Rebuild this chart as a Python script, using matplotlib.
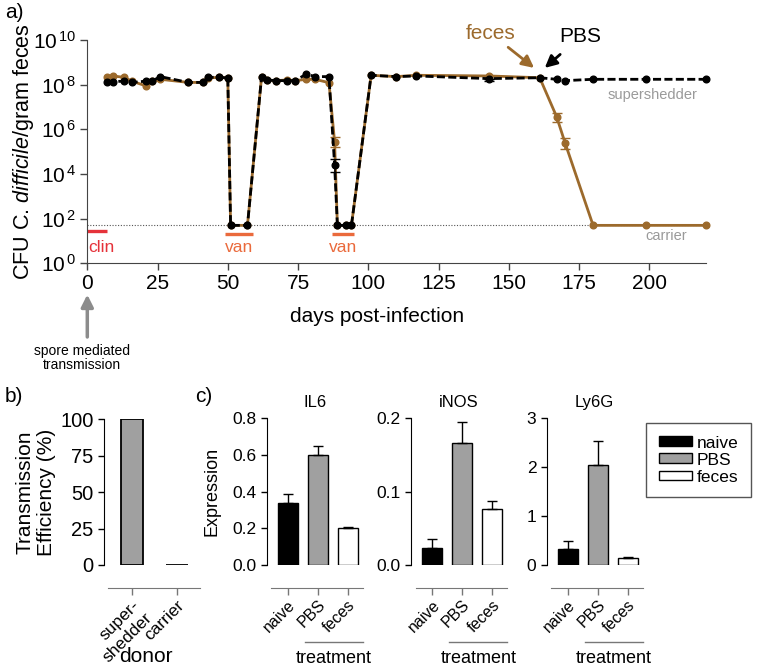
import numpy as np
import matplotlib.pyplot as plt
from matplotlib.patches import Patch

plt.rcParams['font.family'] = ['Liberation Sans', 'DejaVu Sans']
plt.rcParams['mathtext.fontset'] = 'custom'
plt.rcParams['mathtext.rm'] = 'Liberation Sans'
plt.rcParams['mathtext.it'] = 'Liberation Sans:italic'

# ---------------- data ----------------
LOD = 50
days = [7, 9, 13, 16, 21, 23, 26, 36, 41, 43, 47, 50, 51, 57, 62, 64, 67, 71, 74, 78,
        81, 86, 88, 89, 92, 94, 101, 110, 117, 143, 161, 167, 170, 180, 199, 220]
# log10 CFU, None = below detection
log_pbs = [8.13, 8.13, 8.16, 8.10, 8.16, 8.16, 8.36, 8.10, 8.10, 8.33, 8.33, 8.30, None, None,
           8.33, 8.21, 8.18, 8.18, 8.18, 8.48, 8.36, 8.36, 4.42, None, None, None, 8.42,
           8.36, 8.39, 8.27, 8.31, 8.24, 8.18, 8.24, 8.24, 8.24]
log_feces = [8.33, 8.39, 8.33, 8.15, 7.94, 8.15, 8.24, 8.10, 8.10, 8.30, 8.33, 8.30, None, None,
             8.33, 8.21, 8.18, 8.21, 8.18, 8.24, 8.24, 8.09, 5.45, None, None, None, 8.42,
             8.36, 8.42, 8.39, 8.31, 6.57, 5.40, None, None, None]
# error bars (log10 low / high)
err_days_pbs = [88, 143]
err_lo_pbs = [4.10, 8.18]
err_hi_pbs = [4.66, 8.27]
err_days_feces = [88, 167, 170]
err_lo_feces = [5.22, 6.34, 5.10]
err_hi_feces = [5.67, 6.72, 5.60]

clin_days = [0, 7]
van_days = [[49, 59], [87, 95]]

groups = ['naive', 'PBS', 'feces']
genes = ['IL6', 'iNOS', 'Ly6G']
il6_mean = [0.337, 0.60, 0.204]
il6_err = [0.049, 0.05, 0.005]
inos_mean = [0.023, 0.166, 0.077]
inos_err = [0.013, 0.029, 0.010]
ly6g_mean = [0.32, 2.05, 0.15]
ly6g_err = [0.17, 0.48, 0.02]

donors = ['super-\nshedder', 'carrier']
transmission = [100, 0]

brown = '#9c6a2c'
W, H = 761, 668
fig = plt.figure(figsize=(W / 100, H / 100), dpi=100)


def box(l, t, r, b):
    return [l / W, 1 - b / H, (r - l) / W, (b - t) / H]


def to_cfu(vals):
    return np.array([10 ** v if v is not None else LOD for v in vals])


# ---------------- panel a ----------------
ax = fig.add_axes(box(87.3, 40, 705.5, 263.3))
ax.set_yscale('log')
ax.set_xlim(0, 220)
ax.set_ylim(1, 1e10)
ax.axhline(LOD, color='#555555', ls=(0, (1, 1.5)), lw=0.8, zorder=1)

pbs = to_cfu(log_pbs)
feces = to_cfu(log_feces)
ax.plot(days, feces, color=brown, lw=2, marker='o', ms=4.8, zorder=3, clip_on=False)
ax.plot(days, pbs, color='black', lw=2, ls=(0, (2.9, 1.2)), marker='o', ms=4.8,
        zorder=4, clip_on=False)

v = 10 ** np.array([log_pbs[22], log_pbs[29]])
ax.errorbar(err_days_pbs, v, yerr=[v - 10 ** np.array(err_lo_pbs), 10 ** np.array(err_hi_pbs) - v],
            fmt='none', ecolor='black', elinewidth=1.2, capsize=3.5, zorder=5)
v = 10 ** np.array([log_feces[22], log_feces[31], log_feces[32]])
ax.errorbar(err_days_feces, v, yerr=[v - 10 ** np.array(err_lo_feces), 10 ** np.array(err_hi_feces) - v],
            fmt='none', ecolor=brown, elinewidth=1.2, capsize=3.5, zorder=2)

# antibiotic treatments
ax.plot(clin_days, [28, 28], color='#e5323a', lw=2.4, solid_capstyle='butt', clip_on=False)
ax.text(0.5, 4.9, 'clin', color='#e5323a', fontsize=12.5, ha='left', va='center')
for d in van_days:
    ax.plot(d, [20, 20], color='#ea6a3c', lw=2.4, solid_capstyle='butt')
    ax.text(np.mean(d), 4.9, 'van', color='#ea6a3c', fontsize=12.5, ha='center', va='center')

ax.text(201, 10 ** 7.54, 'supershedder', color='#9a9a9a', fontsize=10.5, ha='center', va='center')
ax.text(206, 10 ** 1.22, 'carrier', color='#9a9a9a', fontsize=10.5, ha='center', va='center')

ax.annotate('feces', xy=(159, 10 ** 8.75), xytext=(143.5, 10 ** 10.3), color=brown, fontsize=15,
            ha='center', va='center', annotation_clip=False,
            arrowprops=dict(arrowstyle='-|>', color=brown, lw=2, mutation_scale=18, shrinkA=2, shrinkB=0))
ax.annotate('PBS', xy=(162.8, 10 ** 8.75), xytext=(175.5, 10 ** 10.15), color='black', fontsize=15,
            ha='center', va='center', annotation_clip=False,
            arrowprops=dict(arrowstyle='-|>', color='black', lw=2, mutation_scale=18, shrinkA=6, shrinkB=0))

# spore arrow below axis
ax.annotate('', xy=(0, -0.14), xytext=(0, -0.33), xycoords=('data', 'axes fraction'),
            textcoords=('data', 'axes fraction'), annotation_clip=False,
            arrowprops=dict(arrowstyle='-|>', color='#8c8c8c', lw=2.5, mutation_scale=18, shrinkA=0, shrinkB=0))
ax.text(-1.9, -0.425, 'spore mediated\ntransmission', transform=ax.get_xaxis_transform(),
        fontsize=10, ha='center', va='center', linespacing=0.95)

ax.set_xticks([0, 25, 50, 75, 100, 125, 150, 175, 200])
ax.set_yticks([10 ** k for k in range(0, 11, 2)])
ax.set_yticklabels([r'$\mathregular{10^{\,%d}}$' % k for k in range(0, 11, 2)])
ax.yaxis.set_minor_locator(plt.NullLocator())
ax.tick_params(labelsize=15, length=5, width=1, color='#444444', pad=3)
for s in ['top', 'right']:
    ax.spines[s].set_visible(False)
for s in ['left', 'bottom']:
    ax.spines[s].set_color('#444444')
ax.set_xlabel('days post-infection', fontsize=15)
ax.xaxis.set_label_coords(0.469, -0.196)
ax.set_ylabel(r'CFU C. $\mathit{difficile}$/gram feces', fontsize=15.5)
ax.yaxis.set_label_coords(-0.083, 0.5)

fig.text(5 / W, 1 - 12 / H, 'a)', fontsize=15, va='center')
fig.text(5 / W, 1 - 397 / H, 'b)', fontsize=15, va='center')
fig.text(195 / W, 1 - 397 / H, 'c)', fontsize=15, va='center')


def offset_bottom(a, lo, hi):
    # GraphPad style: detached x axis below the bars
    for s in ['top', 'right']:
        a.spines[s].set_visible(False)
    a.spines['bottom'].set_position(('outward', 16.3))
    a.spines['bottom'].set_bounds(lo, hi)
    a.spines['bottom'].set_color('#777777')


# ---------------- panel b ----------------
axb = fig.add_axes(box(104, 419.3, 200, 565))
offset_bottom(axb, -0.53, 1.51)
axb.bar([0, 1], transmission, width=0.5, color='#a0a0a0', edgecolor='black', lw=1.3)
axb.set_xlim(-0.62, 1.51)
axb.set_ylim(0, 100)
axb.set_yticks([0, 25, 50, 75, 100])
axb.set_xticks([0, 1])
axb.set_xticklabels(donors, rotation=45, ha='right', va='top', rotation_mode='anchor', fontsize=12.5)
axb.tick_params(axis='y', labelsize=14.5, length=4, width=1)
axb.tick_params(axis='x', length=5, width=1, color='#777777', pad=2)
axb.set_xlabel('donor', fontsize=15)
axb.xaxis.set_label_coords(0.44, -0.56)
axb.set_ylabel('Transmission\nEfficiency (%)', fontsize=15)
axb.yaxis.set_label_coords(-0.5, 0.5)

# ---------------- panel c ----------------
means = [il6_mean, inos_mean, ly6g_mean]
errs = [il6_err, inos_err, ly6g_err]
ylims = [0.8, 0.2, 3]
yticks = [[0, 0.2, 0.4, 0.6, 0.8], [0, 0.1, 0.2], [0, 1, 2, 3]]
ytick_fmt = ['%.1f', '%.1f', '%d']
lefts = [266.7, 411, 546.7]
colors = ['black', '#a0a0a0', 'white']
x = np.arange(3)
for i in range(3):
    axc = fig.add_axes(box(lefts[i], 418.3, lefts[i] + 96, 565))
    offset_bottom(axc, -0.55, 2.5)
    axc.bar(x, means[i], width=0.67, color=colors, edgecolor='black', lw=1)
    axc.errorbar(x, means[i], yerr=[np.zeros(3), errs[i]], fmt='none', ecolor='black',
                 elinewidth=1, capsize=3.3, capthick=1)
    axc.set_xlim(-0.7, 2.5)
    axc.set_ylim(0, ylims[i])
    axc.set_yticks(yticks[i])
    axc.set_yticklabels([ytick_fmt[i] % t for t in yticks[i]])
    axc.set_xticks(x)
    axc.set_xticklabels(groups, rotation=45, ha='right', va='top', rotation_mode='anchor', fontsize=11.5)
    axc.tick_params(axis='y', labelsize=12.5, length=4, width=1)
    axc.tick_params(axis='x', length=5, width=1, color='#777777', pad=2)
    axc.set_title(genes[i], fontsize=12, pad=8)
    # treatment bracket
    axc.plot([0.57, 2.5], [-0.523, -0.523], color='#777777', lw=1,
             transform=axc.get_xaxis_transform(), clip_on=False)
    axc.text(1.55, -0.64, 'treatment', fontsize=13, ha='center', va='center',
             transform=axc.get_xaxis_transform())
    if i == 0:
        axc.set_ylabel('Expression', fontsize=13)
        axc.yaxis.set_label_coords(-0.48, 0.5)

handles = [Patch(facecolor=c, edgecolor='black', lw=1) for c in colors]
leg = fig.legend(handles, groups, loc='upper left', bbox_to_anchor=(646 / W, 1 - 423 / H),
                 fontsize=12.5, handlelength=1.95, handleheight=0.5, handletextpad=0.25,
                 labelspacing=0.12, borderpad=0.72, borderaxespad=0, fancybox=False, framealpha=1)
leg.get_frame().set_edgecolor('#555555')
leg.get_frame().set_linewidth(1)

fig.savefig('out.png', dpi=100)
